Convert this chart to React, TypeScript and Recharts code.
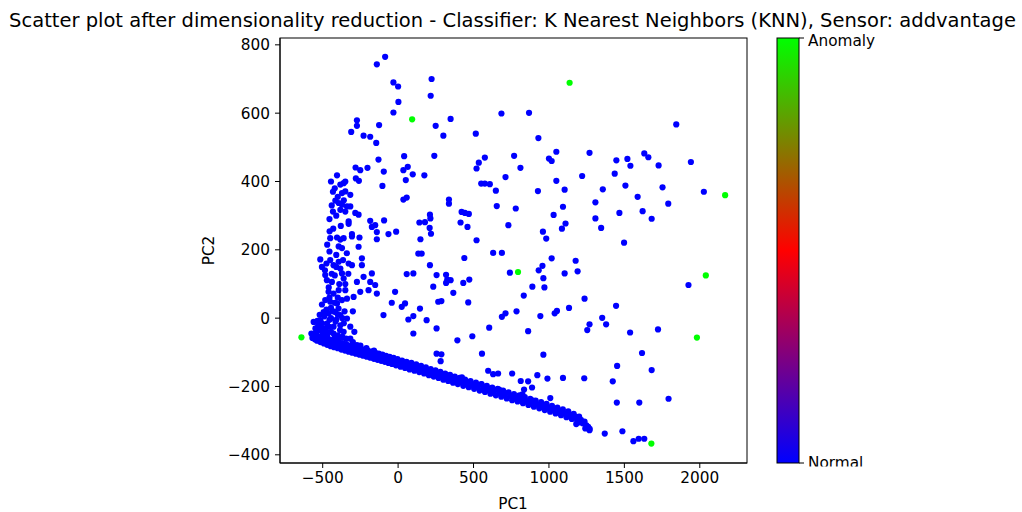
import React from 'react';
import { ScatterChart, Scatter, XAxis, YAxis } from 'recharts';

type Pt = [number, number];

// Scattered points in the upper half of the projection
const upperScatter: Pt[] = [
  [-141, 743], [-86, 765], [-31, 690], [0, 678], [2, 633], [-31, 602], [222, 700], [216, 651],
  [-273, 579], [-273, 563], [-311, 545], [-126, 565], [-229, 534], [-185, 531], [-145, 513],
  [249, 563], [348, 583], [300, 534], [685, 599], [868, 601], [515, 540], [930, 527], [1844, 567],
  [1049, 487], [1000, 467], [1018, 460], [1269, 484], [769, 475], [575, 470], [535, 455], [520, 438],
  [811, 440], [1447, 462], [1520, 466], [1540, 446], [1632, 482], [1659, 471], [1727, 447], [1941, 457],
  [2027, 370], [1436, 423], [1220, 416], [712, 413], [1049, 402], [1104, 376], [927, 372], [1357, 377],
  [1507, 388], [1753, 383], [1588, 355], [1791, 335], [1308, 339], [1467, 308], [1621, 313], [1681, 291],
  [1308, 292], [1346, 264], [1498, 221], [1093, 326], [1031, 302], [1110, 277], [1086, 262], [960, 253],
  [982, 233], [731, 272], [780, 321], [654, 328], [648, 373], [551, 394], [575, 394], [608, 392],
  [520, 228], [460, 267], [414, 280], [421, 311], [443, 308], [469, 305], [337, 347], [337, 335],
  [211, 303], [214, 292], [178, 281], [141, 280], [209, 264], [218, 247], [148, 231], [240, 475],
  [174, 418], [97, 421], [40, 474], [35, 433], [64, 443], [51, 404], [35, 347], [57, 353],
  [-95, 429], [-104, 387], [-130, 464], [-203, 440], [-251, 433], [-282, 441], [-280, 409], [-260, 402],
  [-185, 285], [-152, 272], [-174, 267], [-141, 252], [-141, 231], [-93, 286], [-64, 246], [-13, 253],
];

// Dense vertical cluster on the left side
const leftCluster: Pt[] = [
  [-405, 418], [-383, 391], [-361, 395], [-350, 400], [-432, 370], [-372, 366], [-350, 371], [-317, 361],
  [-416, 344], [-394, 337], [-372, 332], [-339, 327], [-317, 327], [-432, 312], [-383, 317], [-350, 312],
  [-284, 308], [-262, 303], [-328, 283], [-328, 276], [-454, 254], [-450, 234], [-405, 236], [-383, 230],
  [-361, 234], [-306, 246], [-306, 239], [-256, 236], [-262, 209], [-394, 210], [-372, 205],
  [-445, 400], [-420, 380], [-400, 355], [-440, 330], [-360, 345], [-410, 300], [-455, 290], [-380, 270],
  [-430, 262], [-470, 215], [-340, 190], [-455, 195], [-410, 185], [-365, 170], [-485, 140], [-420, 125],
  [-350, 100], [-460, 90], [-400, 60], [-505, 40], [-445, 30], [-395, 28], [-530, -20], [-490, -30],
  [-455, -5], [-410, -5], [-360, -15], [-540, -40], [-400, -50], [-470, -52], [-345, -60], [-300, -70],
  [-250, -80], [-210, -88], [-160, -95],
  [-520, 10], [-505, -15], [-490, 5], [-475, 25], [-460, -25], [-445, 0], [-430, 20], [-415, -10],
  [-400, 10], [-385, -35], [-370, 0], [-355, 20], [-500, -45], [-480, -50], [-445, -40], [-420, -55],
  [-395, -60], [-370, -55], [-455, 60], [-420, 45], [-390, 100], [-440, 130], [-475, 160], [-410, 150],
  [-330, 130], [-300, 20], [-290, -40], [-520, -28], [-548, -30], [-535, -8],
];

const lowerLeft: Pt[] = [
  [-516, 172], [-505, 150], [-450, 170], [-428, 155], [-394, 165], [-383, 145], [-328, 160], [-306, 155],
  [-240, 175], [-240, 155], [-483, 126], [-472, 111], [-439, 106], [-372, 131], [-361, 116], [-273, 106],
  [-229, 121], [-174, 131], [-185, 106], [-152, 97], [-251, 77], [-196, 82], [-141, 72], [-461, 77],
  [-428, 72], [-394, 82], [-350, 82], [-483, 53], [-450, 48], [-405, 43], [-372, 53], [-339, 57],
  [-295, 62], [-494, 18], [-461, 14], [-416, 18], [-383, 9], [-339, -1], [-560, -11], [-516, -6],
  [-472, -16], [-428, -25], [-383, -21], [-317, -25], [-516, -35], [-472, -40], [-428, -45], [-361, -40],
  [-317, -60], [-273, -79], [-560, -50], [-494, -60], [-428, -65], [-383, -74], [-339, -84],
];

const lowerMid: Pt[] = [
  [57, 129], [101, 131], [-20, 77], [-42, 45], [24, 33], [46, 43], [-97, 9], [68, -4], [101, 6],
  [145, 28], [189, -6], [101, -45], [255, -30], [233, 92], [211, 155], [255, 126], [266, 48], [255, -104],
  [134, 189], [156, 189], [439, 176], [630, 191], [688, 191], [1018, 175], [1177, 168], [741, 133],
  [932, 140], [957, 153], [963, 117], [970, 90], [1104, 131], [1190, 137], [318, 127], [326, 113],
  [348, 111], [318, 103], [432, 103], [472, 113], [366, 74], [287, 50], [465, 46], [890, 92], [833, 66],
  [1236, 57], [1133, 30], [1053, 21], [1038, 14], [943, 6], [785, 20], [712, 14], [688, 4], [604, -28],
  [862, -38], [1269, -18], [1254, -35], [393, -65], [492, -53], [556, -104], [963, -107], [287, -106],
  [282, -126], [597, -154], [630, -164], [663, -162], [756, -162], [923, -167], [990, -177], [1093, -175],
  [1234, -176], [423, -173], [813, -184], [862, -185], [553, -194], [888, -203], [835, -209], [824, -223],
  [807, -236], [884, -240], [899, -242], [1009, -234], [965, -258], [670, -209], [686, -221], [608, -206],
  [586, -209], [1181, -289], [1148, -291], [1203, -305], [1181, -310], [1241, -323], [1269, -328],
];

const lowerRight: Pt[] = [
  [1925, 97], [1445, 36], [1353, 1], [1379, -18], [1538, -42], [1723, -33], [1617, -102], [1452, -140],
  [1681, -152], [1423, -185], [1450, -247], [1599, -247], [1793, -236], [1370, -338], [1487, -331],
  [1560, -360], [1595, -353], [1632, -353],
];

// The long descending band of normal readings
const diagonalBand: Pt[] = [
  [-575, -45], [-568, -58], [-560, -47], [-552, -62], [-545, -50], [-537, -66], [-530, -53], [-522, -58],
  [-515, -70], [-507, -55], [-500, -64], [-492, -74], [-485, -58], [-477, -68], [-470, -78], [-462, -61],
  [-455, -72], [-447, -82], [-440, -64], [-432, -75], [-424, -85], [-416, -66], [-408, -79], [-400, -88],
  [-392, -70], [-384, -82], [-376, -92], [-368, -73], [-360, -85], [-352, -95], [-344, -76], [-336, -88],
  [-328, -98], [-320, -80], [-312, -92], [-304, -101], [-296, -83], [-288, -95], [-280, -104], [-272, -86],
  [-264, -98], [-256, -107], [-248, -89], [-240, -101], [-232, -110], [-224, -92], [-216, -104], [-208, -113],
  [-200, -95], [-192, -107], [-184, -116], [-176, -98], [-168, -110], [-160, -119], [-152, -101], [-144, -113],
  [-136, -122], [-128, -104], [-120, -116], [-112, -125], [-104, -107], [-96, -119], [-88, -128], [-80, -110],
  [-72, -122], [-64, -131], [-56, -113], [-48, -125], [-40, -134], [-30, -116], [-22, -128], [-14, -138],
  [-4, -120], [6, -131], [16, -142], [26, -124], [36, -135], [46, -146], [56, -128], [66, -139],
  [76, -150], [88, -131], [98, -143], [108, -154], [120, -135], [130, -147], [140, -158], [152, -140],
  [162, -151], [172, -162], [184, -144], [194, -156], [204, -167], [216, -149], [226, -160], [236, -171],
  [248, -153], [258, -165], [268, -175], [280, -157], [290, -169], [300, -180], [312, -162], [322, -173],
  [332, -184], [344, -166], [354, -178], [364, -189], [376, -171], [386, -182], [396, -193], [408, -175],
  [420, -187], [432, -198], [444, -180], [456, -191], [468, -202], [480, -184], [492, -196], [504, -207],
  [516, -189], [528, -200], [540, -212], [552, -193], [564, -205], [576, -216], [588, -198], [600, -210],
  [612, -221], [624, -203], [636, -214], [648, -226], [660, -207], [672, -219], [684, -230], [696, -212],
  [708, -224], [720, -235], [732, -217], [744, -228], [756, -240], [768, -222], [780, -233], [792, -244],
  [804, -226], [816, -238], [828, -249], [840, -231], [852, -243], [864, -254], [876, -236], [888, -248],
  [900, -259], [912, -241], [924, -253], [936, -264], [948, -246], [960, -258], [972, -269], [984, -251],
  [996, -263], [1008, -274], [1020, -257], [1032, -268], [1044, -279], [1056, -262], [1068, -273], [1080, -284],
  [1092, -267], [1104, -278], [1116, -290], [1128, -273], [1140, -284], [1152, -295], [1164, -280], [1176, -291],
  [1188, -301], [1200, -288], [1212, -298], [1224, -308], [1236, -303], [1248, -314], [1260, -318], [1270, -324],
];

// Points flagged by the classifier
const anomalies: Pt[] = [
  [-641, -56], [93, 582], [1137, 689], [2168, 360], [795, 135], [2040, 125], [1981, -57], [1679, -367],
];

const xTicks = [-500, 0, 500, 1000, 1500, 2000];
const yTicks = [-400, -200, 0, 200, 400, 600, 800];
const xDomain: [number, number] = [-783, 2313];
const yDomain: [number, number] = [-424, 820];
const colorbarLabels = { low: 'Normal', high: 'Anomaly' };
const chartTitle =
  'Scatter plot after dimensionality reduction - Classifier: K Nearest Neighbors (KNN), Sensor: addvantage';
const xLabel = 'PC1';
const yLabel = 'PC2';

const NORMAL_COLOR = '#0000ff';
const ANOMALY_COLOR = '#00ff00';
const FONT = 'DejaVu Sans, sans-serif';
const LABEL_SIZE = 15.3;

const toRows = (pts: Pt[]) => pts.map(([pc1, pc2]) => ({ pc1, pc2 }));
const normalRows = toRows([
  ...upperScatter,
  ...leftCluster,
  ...lowerLeft,
  ...lowerMid,
  ...lowerRight,
  ...diagonalBand,
]);
const anomalyRows = toRows(anomalies);

const minusFmt = (v: number) => String(v).replace('-', '\u2212');

const makeDot = (color: string) => (props: any) => (
  <circle cx={props.cx} cy={props.cy} r={3.1} fill={color} stroke="none" />
);

const tickStyle = { fill: '#000', fontSize: LABEL_SIZE, fontFamily: FONT };

export default function App() {
  return (
    <div style={{ position: 'absolute', left: 0, top: 0, width: 1022, height: 512, background: '#fff' }}>
      <ScatterChart width={1022} height={512} margin={{ top: 38, right: 275, bottom: 0, left: 220 }}>
        <XAxis
          type="number"
          dataKey="pc1"
          domain={xDomain}
          ticks={xTicks}
          interval={0}
          allowDataOverflow
          height={49}
          tickSize={5}
          tickMargin={4}
          tickFormatter={minusFmt}
          stroke="#000"
          tick={tickStyle}
        />
        <YAxis
          type="number"
          dataKey="pc2"
          domain={yDomain}
          ticks={yTicks}
          interval={0}
          allowDataOverflow
          width={60}
          tickSize={5}
          tickMargin={5}
          tickFormatter={minusFmt}
          stroke="#000"
          tick={tickStyle}
        />
        <Scatter
          data={normalRows}
          fill={NORMAL_COLOR}
          shape={makeDot(NORMAL_COLOR)}
          isAnimationActive={false}
        />
        <Scatter
          data={anomalyRows}
          fill={ANOMALY_COLOR}
          shape={makeDot(ANOMALY_COLOR)}
          isAnimationActive={false}
        />
      </ScatterChart>

      <svg
        width={1022}
        height={512}
        style={{ position: 'absolute', left: 0, top: 0, pointerEvents: 'none' }}
        fontFamily={FONT}
      >
        <defs>
          <linearGradient id="brg" x1="0" y1="0" x2="0" y2="1">
            <stop offset="0" stopColor="#00ff00" />
            <stop offset="0.5" stopColor="#ff0000" />
            <stop offset="1" stopColor="#0000ff" />
          </linearGradient>
        </defs>
        {/* plot frame */}
        <rect x={280} y={38} width={467} height={425} fill="none" stroke="#000" strokeWidth={1} />

        <text x={512.5} y={26.5} textAnchor="middle" fontSize={19.5} fill="#000">
          {chartTitle}
        </text>
        <text x={513} y={509} textAnchor="middle" fontSize={LABEL_SIZE} fill="#000">
          {xLabel}
        </text>
        <text
          x={0}
          y={0}
          transform="translate(214,250.5) rotate(-90)"
          textAnchor="middle"
          fontSize={LABEL_SIZE}
          fill="#000"
        >
          {yLabel}
        </text>

        {/* colour bar */}
        <rect x={777} y={38} width={22} height={425} fill="url(#brg)" stroke="#000" strokeWidth={1} />
        <line x1={799} y1={38} x2={804} y2={38} stroke="#000" strokeWidth={1} />
        <line x1={799} y1={463} x2={804} y2={463} stroke="#000" strokeWidth={1} />
        <text x={808} y={41} dominantBaseline="central" fontSize={LABEL_SIZE} fill="#000">
          {colorbarLabels.high}
        </text>
        <text x={808} y={463} dominantBaseline="central" fontSize={LABEL_SIZE} fill="#000">
          {colorbarLabels.low}
        </text>
        <rect x={760} y={466.5} width={262} height={8} fill="#fff" />
      </svg>
    </div>
  );
}
